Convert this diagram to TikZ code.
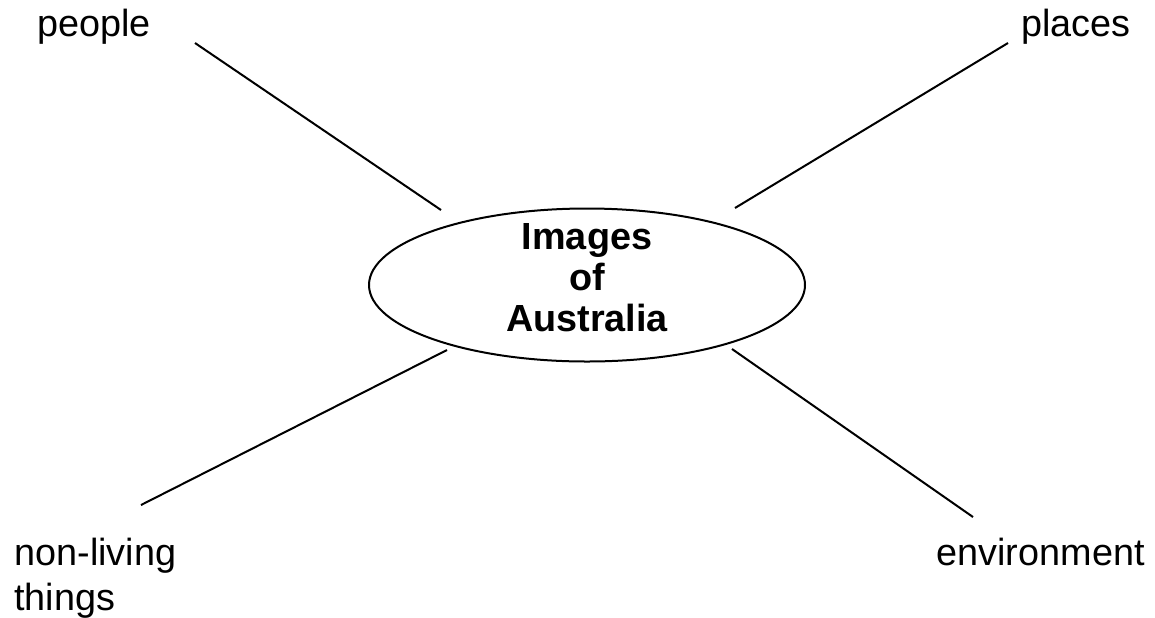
\documentclass[tikz,border=0pt]{standalone}
\usepackage{fontspec}
\setmainfont{Liberation Sans}
\usetikzlibrary{shapes.geometric}
\begin{document}
\begin{tikzpicture}[x=0.5pt,y=-0.5pt,
  lbl/.style={font=\fontsize{18.9}{22.5}\selectfont, inner sep=0pt, align=left},
  conn/.style={line width=1pt, black},
  hub/.style={draw, line width=1pt, ellipse, minimum width=218pt, minimum height=76.5pt, inner sep=0pt}]
\useasboundingbox (0,0) rectangle (1155,617);
\node[hub] (hub) at (587,285) {};
\node[font=\bfseries\fontsize{18.9}{20.5}\selectfont, align=center] (title) at (587,278) {Images\\of\\Australia};
\node[lbl, anchor=west] (people) at (37,27) {people};
\node[lbl, anchor=east] (places) at (1131,27) {places};
\node[lbl, anchor=north west] (nonliving) at (14,538) {non-living\\things};
\node[lbl, anchor=east] (env) at (1145,552) {environment};
\coordinate (p1) at (195,43);  \coordinate (p2) at (441,210);
\coordinate (q1) at (1008,43); \coordinate (q2) at (735,208);
\coordinate (n1) at (141,505); \coordinate (n2) at (447,350);
\coordinate (e1) at (973,517); \coordinate (e2) at (732,349);
\draw[conn] (p1) -- (p2);
\draw[conn] (q1) -- (q2);
\draw[conn] (n1) -- (n2);
\draw[conn] (e1) -- (e2);
\end{tikzpicture}
\end{document}
